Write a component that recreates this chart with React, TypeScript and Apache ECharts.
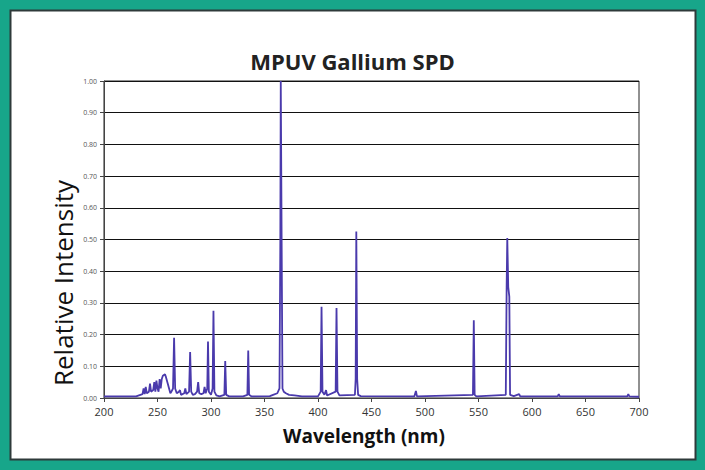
import React, { useEffect, useRef } from "react";
import * as echarts from "echarts";

const titleText = "MPUV Gallium SPD";
const xName = "Wavelength (nm)";
const yName = "Relative Intensity";

const wavelengths: number[] = [
  200, 230, 234, 236, 237, 238, 239, 240, 242, 243, 244, 246, 247, 248, 249, 250, 251, 252, 253, 254,
  255, 257, 258, 260, 262, 263, 264.5, 265.5, 266.5, 268, 270, 271, 272, 275, 276, 277, 279.5, 280.5,
  281.5, 283, 285, 287, 288, 289, 291, 293, 294, 295, 296.5, 297.2, 298, 300, 301.5, 302.3, 303.2, 305,
  308, 312.5, 313.3, 314.2, 317, 330, 334, 334.8, 335.6, 338, 355, 358, 362, 364, 364.8, 365.2, 366,
  366.8, 368, 370, 373, 378, 385, 400, 402.5, 403.3, 404.2, 406, 407.5, 408.5, 416.5, 417.3, 418.2,
  420, 434.5, 435.2, 435.8, 436.6, 437.5, 440, 490, 491.5, 492.5, 544.8, 545.6, 546.4, 548, 575.5,
  576.3, 576.9, 577.8, 578.8, 579.5, 583, 588, 589, 624, 625, 626, 689, 690, 691, 700,
];

const intensities: number[] = [
  0.005, 0.005, 0.01, 0.012, 0.03, 0.012, 0.035, 0.015, 0.02, 0.045, 0.02, 0.025, 0.05, 0.02, 0.055, 0.03, 0.02, 0.06, 0.03, 0.06,
  0.07, 0.075, 0.065, 0.04, 0.015, 0.02, 0.03, 0.19, 0.03, 0.015, 0.02, 0.025, 0.01, 0.015, 0.03, 0.012, 0.02, 0.145,
  0.02, 0.01, 0.012, 0.02, 0.05, 0.015, 0.012, 0.015, 0.035, 0.015, 0.03, 0.178, 0.02, 0.01, 0.03, 0.275, 0.02, 0.008,
  0.005, 0.01, 0.117, 0.01, 0.005, 0.005, 0.01, 0.15, 0.01, 0.005, 0.006, 0.01, 0.015, 0.03, 0.5, 1.0, 0.5,
  0.03, 0.02, 0.015, 0.01, 0.008, 0.005, 0.005, 0.02, 0.288, 0.02, 0.01, 0.025, 0.008, 0.02, 0.284, 0.02,
  0.008, 0.01, 0.06, 0.525, 0.06, 0.01, 0.006, 0.005, 0.022, 0.005, 0.01, 0.245, 0.01, 0.005, 0.01,
  0.35, 0.505, 0.35, 0.32, 0.01, 0.006, 0.012, 0.005, 0.005, 0.012, 0.005, 0.005, 0.012, 0.005, 0.004,
];

const FONT = "'Open Sans', 'Noto Sans', sans-serif";

export default function App() {
  const ref = useRef<HTMLDivElement>(null);

  useEffect(() => {
    document.body.style.margin = "0";
    if (!ref.current) return;
    const chart = echarts.init(ref.current, undefined, { renderer: "svg" });
    const data = wavelengths.map((w, i) => [w, intensities[i]]);
    chart.setOption({
      animation: false,
      backgroundColor: "#ffffff",
      title: {
        text: titleText,
        left: "center",
        top: 45,
        textStyle: { fontFamily: FONT, fontSize: 22, fontWeight: "bold", color: "#222" },
      },
      grid: {
        left: 104,
        right: 66,
        top: 81,
        bottom: 72,
        show: true,
        borderColor: "#222",
        borderWidth: 1,
        backgroundColor: "transparent",
      },
      xAxis: {
        type: "value",
        min: 200,
        max: 700,
        interval: 50,
        axisLine: { show: true, lineStyle: { color: "#444", width: 1 } },
        axisTick: { show: true, length: 4, lineStyle: { color: "#444" } },
        axisLabel: { fontFamily: FONT, fontSize: 11, color: "#333", margin: 8 },
        splitLine: { show: false },
      },
      yAxis: {
        type: "value",
        min: 0,
        max: 1,
        interval: 0.1,
        axisLine: { show: true, lineStyle: { color: "#444", width: 1 } },
        axisTick: { show: true, length: 4, lineStyle: { color: "#444" } },
        axisLabel: {
          fontFamily: FONT,
          fontSize: 7,
          color: "#555",
          margin: 7,
          formatter: (v: number) => v.toFixed(2),
        },
        splitLine: { show: true, lineStyle: { color: "#111", width: 1.2 } },
      },
      graphic: [
        {
          type: "rect",
          z: -10,
          silent: true,
          shape: { x: 0, y: 0, width: 705, height: 470 },
          style: { fill: "#17a68a" },
        },
        {
          type: "rect",
          z: -9,
          silent: true,
          shape: { x: 10.5, y: 10.5, width: 685, height: 449 },
          style: { fill: "#ffffff", stroke: "#2e3a3a", lineWidth: 2 },
        },
        {
          type: "text",
          x: 63,
          y: 283,
          rotation: Math.PI / 2,
          style: {
            text: yName,
            fontFamily: FONT,
            fontSize: 26,
            fill: "#111",
            align: "center",
            verticalAlign: "middle",
            textAlign: "center",
            textVerticalAlign: "middle",
          },
        },
        {
          type: "text",
          x: 364,
          y: 436,
          style: {
            text: xName,
            fontFamily: FONT,
            fontSize: 19,
            fontWeight: "bold",
            fill: "#111",
            align: "center",
            verticalAlign: "middle",
            textAlign: "center",
            textVerticalAlign: "middle",
          },
        },
      ],
      series: [
        {
          type: "line",
          data,
          showSymbol: false,
          symbol: "none",
          lineStyle: { color: "#4a3aac", width: 1.8 },
          z: 3,
        },
      ],
    });
    return () => chart.dispose();
  }, []);

  return (
    <div
      ref={ref}
      style={{ position: "absolute", left: 0, top: 0, width: 705, height: 470 }}
    />
  );
}
